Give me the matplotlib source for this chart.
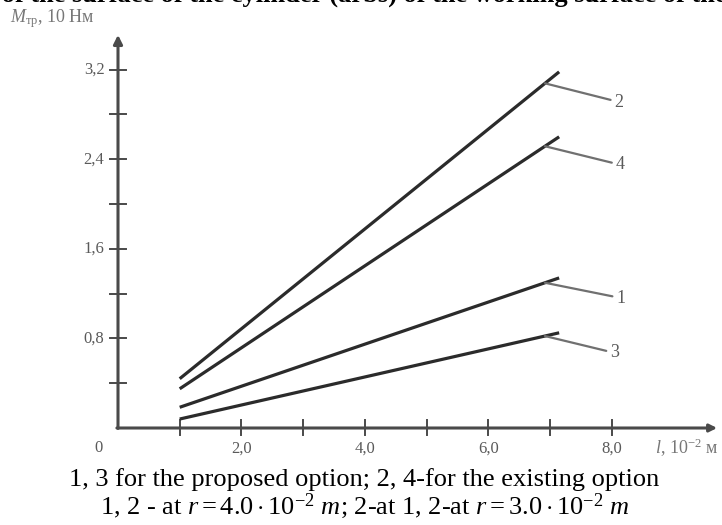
import numpy as np
import matplotlib.pyplot as plt

plt.rcParams['mathtext.fontset'] = 'custom'
plt.rcParams['mathtext.rm'] = 'Liberation Serif'
plt.rcParams['mathtext.it'] = 'Liberation Serif:italic'
plt.rcParams['font.family'] = ['Liberation Serif', 'DejaVu Serif']

# =============================
# Data
# =============================
curve_ids = ['2', '4', '1', '3']
l_start = [1.0, 1.0, 1.0, 1.0]          # 10^-2 m
l_end = [7.15, 7.15, 7.15, 7.15]
m_start = [0.44, 0.35, 0.185, 0.08]     # 10 N*m
m_end = [3.18, 2.60, 1.34, 0.85]

x_ticks = [1, 2, 3, 4, 5, 6, 7, 8]
x_tick_labels = ['', '2,0', '', '4,0', '', '6,0', '', '8,0']
y_ticks = [0.4, 0.8, 1.2, 1.6, 2.0, 2.4, 2.8, 3.2]
y_tick_labels = ['', '0,8', '', '1,6', '', '2,4', '', '3,2']

# where the callout labels sit
label_x = [8.05, 8.07, 8.08, 7.98]
label_y = [2.91, 2.35, 1.16, 0.67]
leader_x = 6.92

caption1 = '1, 3 for the proposed option; 2, 4-for the existing option'
caption2 = (r'1, 2 - at $\mathit{r = 4.0 \cdot 10^{-2}\ m}$; 2-at 1, 2-at '
            r'$\mathit{r = 3.0 \cdot 10^{-2}\ m}$')
top_line = ('ves of the surface of the cylinder (arbs) of the working '
            'surface of the pa')

# =============================
# Figure
# =============================
W, H = 722, 525
X0, Y0 = 118, 428      # pixel position of the origin
SX, SY = 61.7, 112.0   # pixels per unit

fig = plt.figure(figsize=(W / 100, H / 100), dpi=100)
ax = fig.add_axes([0, 0, 1, 1])
ax.set_xlim(-X0 / SX, (W - X0) / SX)
ax.set_ylim(-(H - Y0) / SY, Y0 / SY)
ax.axis('off')

axis_col = '#4a4a4a'
text_col = '#5a5a5a'

# axes with arrows
ax.annotate('', xy=(0, 3.51), xytext=(0, -0.004),
            arrowprops=dict(arrowstyle='-|>', lw=2.2, color=axis_col,
                            mutation_scale=13, shrinkA=0, shrinkB=0))
ax.annotate('', xy=(9.71, 0), xytext=(-0.018, 0),
            arrowprops=dict(arrowstyle='-|>', lw=2.2, color=axis_col,
                            mutation_scale=11, shrinkA=0, shrinkB=0))

for t, lab in zip(x_ticks, x_tick_labels):
    ax.plot([t, t], [-0.06, 0.07], color=axis_col, lw=1.4)
    if lab:
        ax.text(t, -0.18, lab, ha='center', va='center', fontsize=12,
                color=text_col)
ax.text(-0.32, -0.18, '0', ha='center', va='center', fontsize=12,
        color=text_col)

for t, lab in zip(y_ticks, y_tick_labels):
    ax.plot([-0.13, 0.13], [t, t], color=axis_col, lw=1.4)
    if lab:
        ax.text(-0.22, t, lab, ha='right', va='center', fontsize=12,
                color=text_col)

ax.text(-1.75, 3.66, r'$\mathit{M}_{\mathrm{тр}}$, 10 Нм', ha='left',
        va='center', fontsize=13, color='#777777')
ax.text(8.7, -0.18, r'$\mathit{l}$, 10$^{-2}$ м', ha='left', va='center',
        fontsize=13, color='#777777')

# curves
for cid, x0, x1, y0, y1, lx, ly in zip(curve_ids, l_start, l_end, m_start,
                                       m_end, label_x, label_y):
    ax.plot([x0, x1], [y0, y1], color='#2b2b2b', lw=2.3,
            solid_capstyle='butt')
    ya = y0 + (y1 - y0) * (leader_x - x0) / (x1 - x0)
    ax.annotate(cid, xy=(leader_x, ya), xytext=(lx, ly), ha='left',
                va='center', fontsize=13, color=text_col,
                arrowprops=dict(arrowstyle='-', lw=1.6, color='#707070',
                                shrinkA=1, shrinkB=0))

# captions
fig.text(0.505, 1 - 480 / H, caption1, ha='center', va='center', fontsize=19)
fig.text(0.505, 1 - 506 / H, caption2, ha='center', va='center', fontsize=19)
fig.text(0.5, 1 + 5 / H, top_line, ha='center', va='center', fontsize=19,
         fontweight='bold')

fig.savefig('out.png', dpi=100)
